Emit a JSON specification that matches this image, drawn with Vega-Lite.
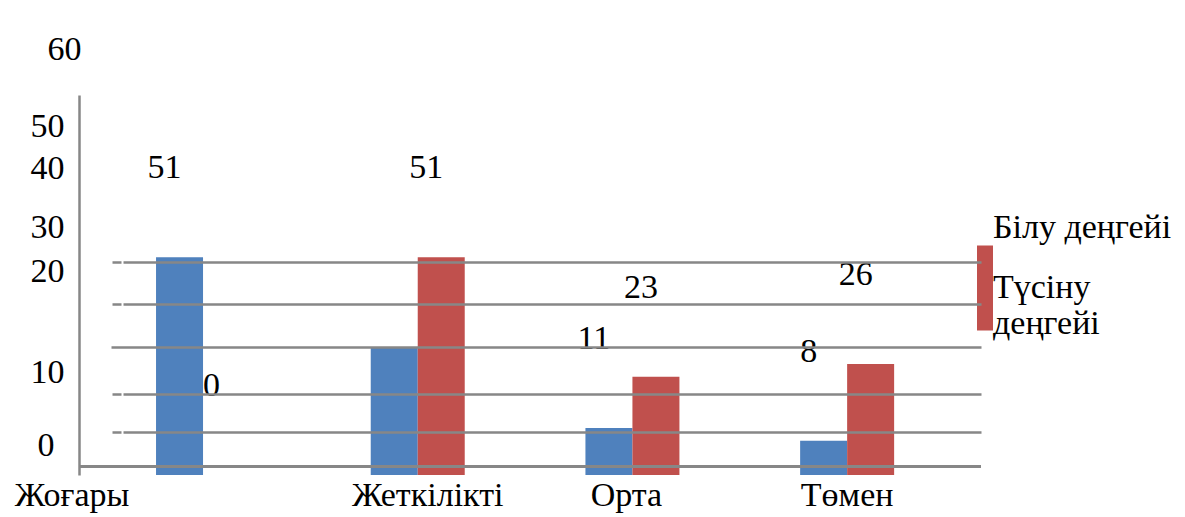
{
  "$schema": "https://vega.github.io/schema/vega-lite/v6.json",
  "width": 902,
  "height": 380,
  "autosize": "none",
  "padding": {"left": 79, "top": 95, "right": 204, "bottom": 42},
  "background": "white",
  "config": {"view": {"stroke": null}, "font": "Liberation Serif"},
  "data": {"values": [
    {"level": "Жоғары", "series": "Білу деңгейі", "value": 51, "label": "51"},
    {"level": "Жоғары", "series": "Түсіну деңгейі", "value": 0, "label": "0"},
    {"level": "Жеткілікті", "series": "Білу деңгейі", "value": 30, "label": ""},
    {"level": "Жеткілікті", "series": "Түсіну деңгейі", "value": 51, "label": "51"},
    {"level": "Орта", "series": "Білу деңгейі", "value": 11, "label": "11"},
    {"level": "Орта", "series": "Түсіну деңгейі", "value": 23, "label": "23"},
    {"level": "Төмен", "series": "Білу деңгейі", "value": 8, "label": "8"},
    {"level": "Төмен", "series": "Түсіну деңгейі", "value": 26, "label": "26"}
  ]},
  "layer": [
    {
      "encoding": {
        "x": {
          "field": "level", "type": "nominal", "sort": null,
          "scale": {"paddingInner": 0.5622, "paddingOuter": 0.3817, "align": 0.47},
          "axis": {
            "title": null, "domain": false, "ticks": false, "labelAngle": 0,
            "labelFont": "Liberation Serif", "labelFontSize": 34, "labelColor": "black",
            "labelPadding": 3, "labelLimit": 0, "labelOverlap": false,
            "labelOffset": {"condition": [
              {"test": "datum.value === 'Жоғары'", "value": -131},
              {"test": "datum.value === 'Жеткілікті'", "value": 10},
              {"test": "datum.value === 'Орта'", "value": -6}
            ], "value": 0}
          }
        },
        "xOffset": {"field": "series", "type": "nominal", "sort": null, "scale": {"paddingInner": 0, "paddingOuter": 0}},
        "y": {
          "field": "value", "type": "quantitative",
          "scale": {"domain": [0, 89], "nice": false, "zero": true},
          "axis": {
            "title": null, "labels": false, "ticks": false,
            "values": [10, 19, 30, 40, 50],
            "grid": true, "gridColor": "#878787", "gridWidth": 2.5, "gridOpacity": 1,
            "gridDash": {"condition": {"test": "datum.value === 30", "value": [0, 32, 3000]}, "value": [0, 33, 9, 2, 3000]},
            "domain": true, "domainColor": "#878787", "domainWidth": 2.5,
            "zindex": 1
          }
        }
      },
      "layer": [
        {
          "mark": {"type": "bar"},
          "encoding": {
            "color": {
              "field": "series", "type": "nominal",
              "scale": {"range": ["#4F81BD", "#C0504D"]},
              "legend": null
            }
          }
        },
        {
          "mark": {"type": "bar", "opacity": 0},
          "encoding": {
            "fill": {
              "field": "series", "type": "nominal",
              "scale": {"domain": ["Білу деңгейі", "Түсіну деңгейі"], "range": ["transparent", "#C0504D"]},
              "legend": {
                "orient": "none", "legendX": 873, "legendY": 64, "title": null,
                "symbolType": "M-0.2424,-1.288L0.2424,-1.288L0.2424,1.288L-0.2424,1.288Z", "symbolSize": 4356,
                "symbolOpacity": 1, "symbolStrokeWidth": 0,
                "labelFont": "Liberation Serif", "labelFontSize": 34, "labelColor": "black",
                "labelLimit": 400, "labelOffset": -25, "rowPadding": 0,
                "labelExpr": "datum.label === 'Түсіну деңгейі' ? ['Түсіну', 'деңгейі'] : ['', datum.label]"
              }
            }
          }
        },
        {
          "mark": {"type": "text", "dy": -89, "dx": -15, "fontSize": 34, "font": "Liberation Serif", "color": "black", "baseline": "middle"},
          "encoding": {
            "text": {"field": "label"}
          }
        }
      ]
    },
    {
      "mark": {"type": "rule", "color": "#878787", "strokeWidth": 2.5},
      "encoding": {
        "y": {
          "datum": 2, "type": "quantitative",
          "scale": {"domain": [0, 89], "nice": false, "zero": true},
          "axis": {
            "orient": "left", "title": null, "values": [0, 10, 20, 30, 40, 50, 60],
            "domain": false, "ticks": false, "grid": false,
            "labelFont": "Liberation Serif", "labelFontSize": 34, "labelColor": "black",
            "labelOverlap": false, "labelFlush": false, "labelBound": false, "labelBaseline": "middle",
            "labelPadding": {"condition": [
              {"test": "datum.value === 60", "value": -2},
              {"test": "datum.value === 0", "value": 25}
            ], "value": 15},
            "labelOffset": {"condition": [
              {"test": "datum.value === 0", "value": -30},
              {"test": "datum.value === 10", "value": -60},
              {"test": "datum.value === 20", "value": -118},
              {"test": "datum.value === 30", "value": -119},
              {"test": "datum.value === 40", "value": -136},
              {"test": "datum.value === 50", "value": -135},
              {"test": "datum.value === 60", "value": -169}
            ], "value": 0}
          }
        }
      }
    }
  ],
  "resolve": {"axis": {"y": "independent"}}
}
